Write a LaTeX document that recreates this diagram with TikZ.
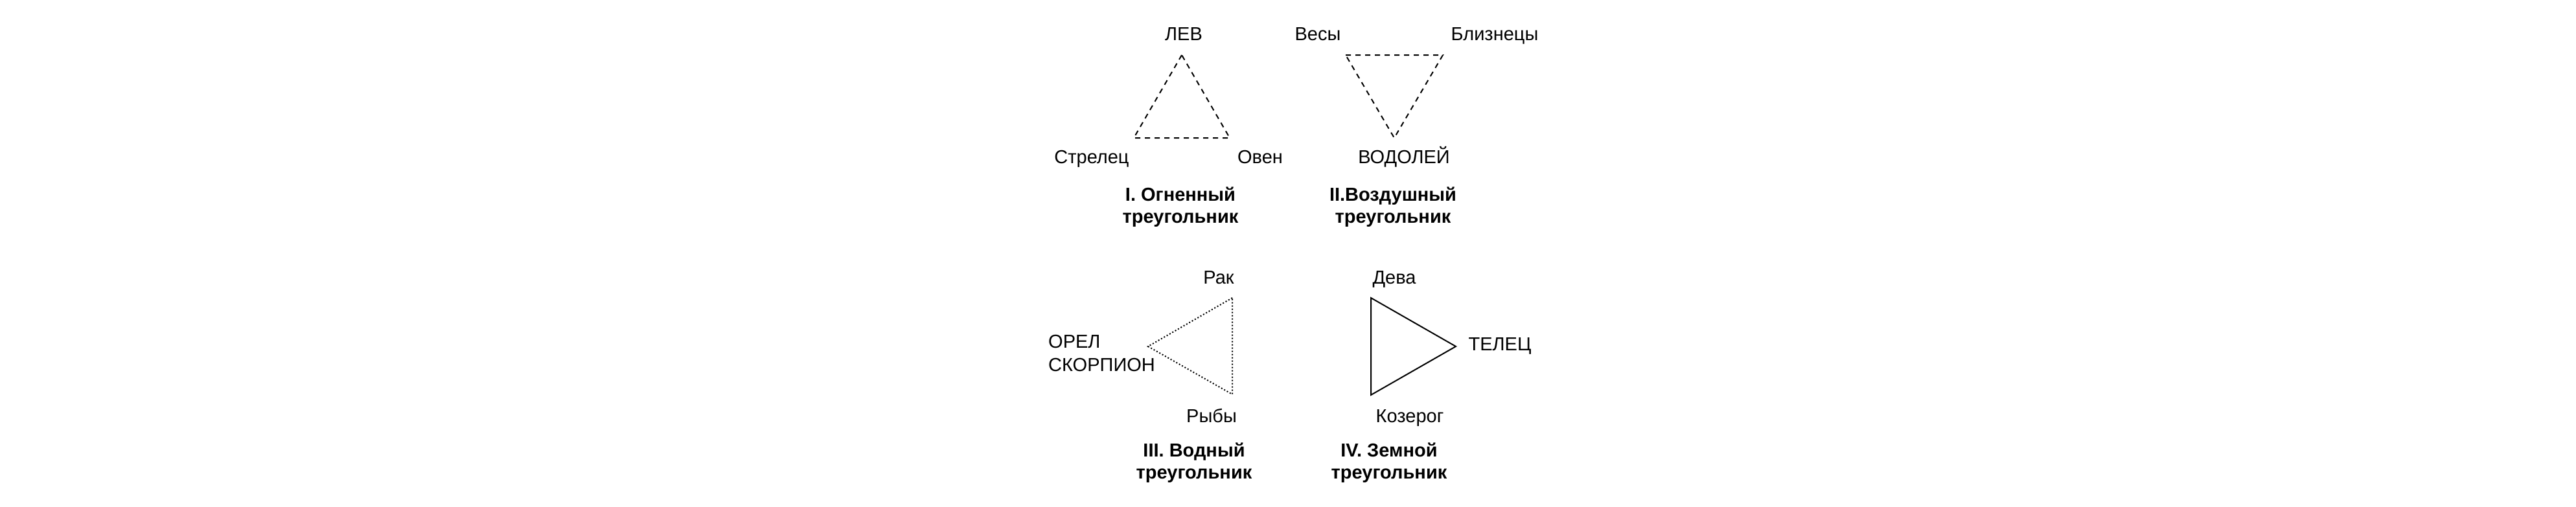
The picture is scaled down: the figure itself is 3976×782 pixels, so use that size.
\documentclass[tikz,border=0pt]{standalone}
\usepackage{fontspec}
\setmainfont{Liberation Sans}
\usepackage{tikz}

\begin{document}
\begin{tikzpicture}[x=1pt,y=-1pt,
    sign/.style={inner sep=0pt,text height=21pt,text depth=0pt,
      font=\fontsize{29}{36}\selectfont},
    caption/.style={inner sep=0pt,align=center,
      font=\fontsize{29}{34}\selectfont\bfseries},
    dashedge/.style={line width=2pt,dash pattern=on 8pt off 7pt},
    dotedge/.style={line width=2pt,dash pattern=on 2pt off 3pt},
    solidedge/.style={line width=2pt}]
  \useasboundingbox (0,0) rectangle (3976,782);

  % I. fire
  \coordinate (f1) at (1824,85);
  \coordinate (f2) at (1750,213);
  \coordinate (f3) at (1898,213);
  \draw[dashedge] (f1) -- (f2) -- (f3) -- cycle;
  \node[sign] (lev) at (1827,52) {ЛЕВ};
  \node[sign] (strelec) at (1685,242) {Стрелец};
  \node[sign] (oven) at (1945,242) {Овен};
  \node[caption] (fire) at (1822,320) {I. Огненный\\треугольник};

  % II. air
  \coordinate (a1) at (2077,85);
  \coordinate (a2) at (2227,85);
  \coordinate (a3) at (2152,213);
  \draw[dashedge] (a1) -- (a2) -- (a3) -- cycle;
  \node[sign] (vesy) at (2034,52) {Весы};
  \node[sign] (bliznecy) at (2307,52) {Близнецы};
  \node[sign] (vodolej) at (2167,242) {ВОДОЛЕЙ};
  \node[caption] (air) at (2150,320) {II.Воздушный\\ треугольник};

  % III. water
  \coordinate (w1) at (1902,460);
  \coordinate (w2) at (1772,535);
  \coordinate (w3) at (1902,609);
  \draw[dotedge] (w1) -- (w2) -- (w3) -- cycle;
  \node[sign] (rak) at (1881,428) {Рак};
  \node[sign] (ryby) at (1870,642) {Рыбы};
  \node[inner sep=0pt,align=left,anchor=west,
    font=\fontsize{29}{36}\selectfont] (skorpion) at (1618,546) {ОРЕЛ\\СКОРПИОН};
  \node[caption] (water) at (1843,715) {III. Водный\\треугольник};

  % IV. earth
  \coordinate (e1) at (2116,460);
  \coordinate (e2) at (2247,535);
  \coordinate (e3) at (2116,610);
  \draw[solidedge] (e1) -- (e2) -- (e3) -- cycle;
  \node[sign] (deva) at (2152,428) {Дева};
  \node[sign] (kozerog) at (2176,642) {Козерог};
  \node[sign] (telec) at (2315,531) {ТЕЛЕЦ};
  \node[caption] (earth) at (2144,715) {IV. Земной\\треугольник};
\end{tikzpicture}
\end{document}
